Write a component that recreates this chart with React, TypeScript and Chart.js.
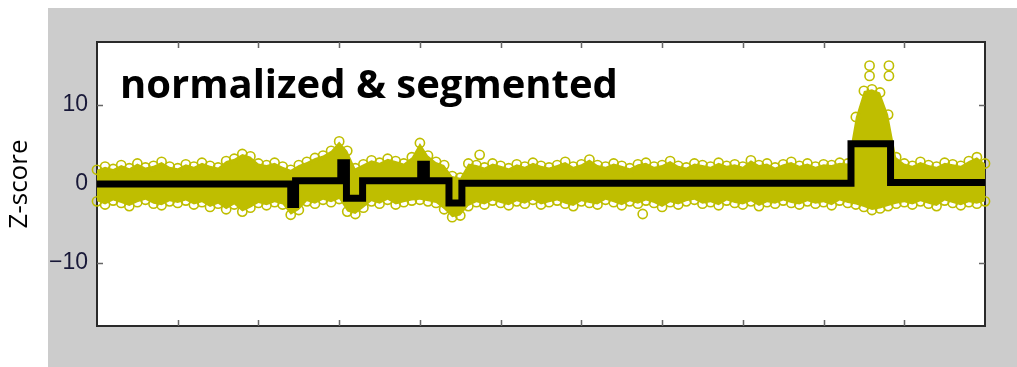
import React, { useEffect, useRef } from 'react';
import { Chart, registerables } from 'chart.js';

Chart.register(...registerables);

const W = 1017;
const H = 367;

// Sampling grid of the noise envelope (x in genome units, 0..11)
const ENV_STEP = 0.1;
// Upper edge of the dense z-score point cloud
const ENV_UPPER = [
  1.8, 2.2, 1.9, 2.4, 2.0, 2.6, 2.1, 2.3, 2.8, 2.2,
  2.0, 2.5, 2.2, 2.7, 2.3, 2.1, 2.9, 3.2, 3.8, 3.5,
  2.6, 2.4, 2.7, 2.2,
  1.8, 2.4,
  2.8, 3.3, 3.6, 4.2,
  5.4, 4.2, 2.0, 2.5,
  3.0, 2.7, 3.2, 2.9, 2.6, 3.4,
  5.2, 3.6, 2.8, 2.4, 1.0, 0.8, 2.6,
  2.4, 2.1, 2.6, 2.3, 2.0, 2.5, 2.2, 2.7, 2.3, 2.1,
  2.4, 2.8, 2.2, 2.5, 3.1, 2.4, 2.2, 2.6, 2.3, 2.0,
  2.5, 2.7, 2.2, 2.4, 2.9, 2.3, 2.1, 2.6, 2.4, 2.2,
  2.7, 2.3, 2.5, 2.2, 3.0, 2.4, 2.6, 2.1, 2.5, 2.8,
  2.3, 2.6, 2.2, 2.5, 2.4, 2.7, 2.6,
  8.5, 11.8, 12.0, 11.6, 8.8, 3.4,
  2.6, 2.3, 2.8, 2.4, 2.2, 2.7, 2.5, 2.3, 2.9, 3.4, 2.6,
];
// Lower edge of the point cloud
const ENV_LOWER = [
  -2.2, -2.6, -2.1, -2.4, -2.8, -2.3, -2.0, -2.5, -2.7, -2.2,
  -2.4, -2.1, -2.6, -2.3, -2.9, -2.5, -3.2, -2.6, -3.5, -3.0,
  -2.4, -2.7, -2.3, -2.6,
  -3.9, -3.3,
  -2.2, -2.5, -2.0, -2.3,
  -1.9, -3.5, -3.8, -3.0,
  -2.2, -2.5, -2.0, -2.6, -2.3, -2.1,
  -2.0, -2.2, -2.4, -3.2, -4.2, -4.0, -2.8,
  -2.3, -2.6, -2.1, -2.4, -2.7, -2.2, -2.5, -2.0, -2.6, -2.3,
  -2.1, -2.5, -2.8, -2.2, -2.4, -2.6, -2.0, -2.3, -2.7, -2.2,
  -2.5, -2.1, -2.4, -2.9, -2.3, -2.6, -2.2, -2.0, -2.5, -2.3,
  -2.7, -2.1, -2.4, -2.6, -2.2, -2.8, -2.3, -2.5, -2.1, -2.4,
  -2.6, -2.2, -2.5, -2.3, -2.7, -2.1, -2.4,
  -2.6, -2.9, -3.3, -3.1, -2.8, -2.5,
  -2.3, -2.6, -2.2, -2.5, -2.8, -2.1, -2.4, -2.7, -2.3, -2.5, -2.2,
];

// Segmentation (step line): start of each segment and its level
const SEG_X = [0, 2.4, 2.46, 3.02, 3.09, 3.29, 4.01, 4.08, 4.36, 4.52, 9.34, 9.83, 11];
const SEG_Y = [0, -2.6, 0.4, 2.7, -1.8, 0.4, 2.5, 0.4, -2.4, 0.1, 5.1, 0.2, 0.2];

// Isolated outlier points
const OUT_X = [4.74, 6.76, 9.57, 9.57, 9.81, 9.81];
const OUT_Y = [3.7, -3.8, 15.0, 13.7, 15.0, 13.7];

const Y_TICKS = [-10, 0, 10];
const X_MIN = 0;
const X_MAX = 11;
const Y_MIN = -18;
const Y_MAX = 18;

const TITLE = 'normalized & segmented';
const Y_LABEL = 'Z-score';

const OLIVE = 'rgb(191,190,0)';

const framePlugin = {
  id: 'frame',
  beforeDraw(chart: any) {
    const { ctx, chartArea: a } = chart;
    ctx.save();
    ctx.fillStyle = '#ffffff';
    ctx.fillRect(0, 0, chart.width, chart.height);
    ctx.fillStyle = '#cccccc';
    ctx.fillRect(48, 8, chart.width - 48, chart.height - 8);
    ctx.fillStyle = '#ffffff';
    ctx.fillRect(a.left, a.top, a.right - a.left, a.bottom - a.top);
    ctx.restore();
  },
  beforeDatasetsDraw(chart: any) {
    const { ctx, chartArea: a, scales } = chart;
    ctx.save();
    ctx.strokeStyle = '#2a2a2a';
    ctx.lineWidth = 2;
    ctx.strokeRect(a.left, a.top, a.right - a.left, a.bottom - a.top);
    ctx.strokeStyle = '#666666';
    ctx.lineWidth = 1.5;
    const tl = 6;
    ctx.beginPath();
    scales.x.ticks.forEach((t: any) => {
      if (t.value <= X_MIN || t.value >= X_MAX) return;
      const px = Math.round(scales.x.getPixelForValue(t.value)) + 0.5;
      ctx.moveTo(px, a.bottom);
      ctx.lineTo(px, a.bottom - tl);
      ctx.moveTo(px, a.top);
      ctx.lineTo(px, a.top + tl);
    });
    scales.y.ticks.forEach((t: any) => {
      const py = Math.round(scales.y.getPixelForValue(t.value)) + 0.5;
      ctx.moveTo(a.left, py);
      ctx.lineTo(a.left + tl, py);
      ctx.moveTo(a.right, py);
      ctx.lineTo(a.right - tl, py);
    });
    ctx.stroke();
    ctx.restore();
  },
  afterDraw(chart: any) {
    const { ctx } = chart;
    ctx.save();
    ctx.fillStyle = '#000000';
    ctx.font = "bold 40px 'Open Sans'";
    ctx.textBaseline = 'alphabetic';
    ctx.textAlign = 'left';
    ctx.fillText(TITLE, 120, 98);
    ctx.restore();
  },
};

export default function App() {
  const ref = useRef<HTMLCanvasElement | null>(null);

  useEffect(() => {
    if (!ref.current) return;
    const upper = ENV_UPPER.map((y, i) => ({ x: i * ENV_STEP, y }));
    const lower = ENV_LOWER.map((y, i) => ({ x: i * ENV_STEP, y }));
    const seg = SEG_X.map((x, i) => ({ x, y: SEG_Y[i] }));
    const out = OUT_X.map((x, i) => ({ x, y: OUT_Y[i] }));

    const pointStyle = {
      pointRadius: 4.6,
      pointBorderWidth: 1.6,
      pointBorderColor: OLIVE,
      pointBackgroundColor: 'rgba(0,0,0,0)',
      pointHoverRadius: 4.6,
    };

    const chart = new Chart(ref.current, {
      type: 'line',
      data: {
        datasets: [
          {
            label: 'segments',
            data: seg,
            stepped: 'before',
            borderColor: '#000000',
            borderWidth: 7,
            borderJoinStyle: 'miter',
            pointRadius: 0,
            fill: false,
            order: 0,
            clip: 6,
          } as any,
          {
            label: 'upper',
            data: upper,
            borderWidth: 0,
            borderColor: 'rgba(0,0,0,0)',
            backgroundColor: OLIVE,
            fill: '+1',
            order: 1,
            clip: 8,
            ...pointStyle,
          } as any,
          {
            label: 'lower',
            data: lower,
            borderWidth: 0,
            borderColor: 'rgba(0,0,0,0)',
            backgroundColor: OLIVE,
            fill: false,
            order: 2,
            clip: 8,
            ...pointStyle,
          } as any,
          {
            label: 'outliers',
            data: out,
            showLine: false,
            order: 3,
            clip: 8,
            ...pointStyle,
          } as any,
        ],
      },
      options: {
        animation: false,
        responsive: false,
        devicePixelRatio: 1,
        events: [],
        layout: { padding: { left: 0, top: 42, right: 32, bottom: 0 } },
        plugins: {
          legend: { display: false },
          tooltip: { enabled: false },
          title: { display: false },
        },
        scales: {
          x: {
            type: 'linear',
            min: X_MIN,
            max: X_MAX,
            ticks: { display: false, stepSize: 1 },
            grid: { display: false, drawTicks: false },
            border: { display: false },
            afterFit: (s: any) => {
              s.height = 41;
            },
          },
          y: {
            type: 'linear',
            min: Y_MIN,
            max: Y_MAX,
            afterBuildTicks: (s: any) => {
              s.ticks = Y_TICKS.map((v) => ({ value: v }));
            },
            ticks: {
              padding: 9,
              color: '#181838',
              font: { family: "'Liberation Sans', Arial, sans-serif", size: 23 },
              callback: (v: any) => (Number(v) < 0 ? '\u2212' + Math.abs(Number(v)) : String(v)),
            },
            grid: { display: false, drawTicks: false },
            border: { display: false },
            title: {
              display: true,
              text: Y_LABEL,
              color: '#000000',
              font: { family: "'Open Sans', sans-serif", size: 26 },
              padding: { top: 4, bottom: 0 },
            },
            afterFit: (s: any) => {
              s.width = 97;
            },
          },
        },
      },
      plugins: [framePlugin],
    } as any);
    return () => chart.destroy();
  }, []);

  return (
    <div style={{ position: 'fixed', left: 0, top: 0, width: W, height: H }}>
      <canvas ref={ref} width={W} height={H} style={{ width: W, height: H, display: 'block' }} />
    </div>
  );
}
